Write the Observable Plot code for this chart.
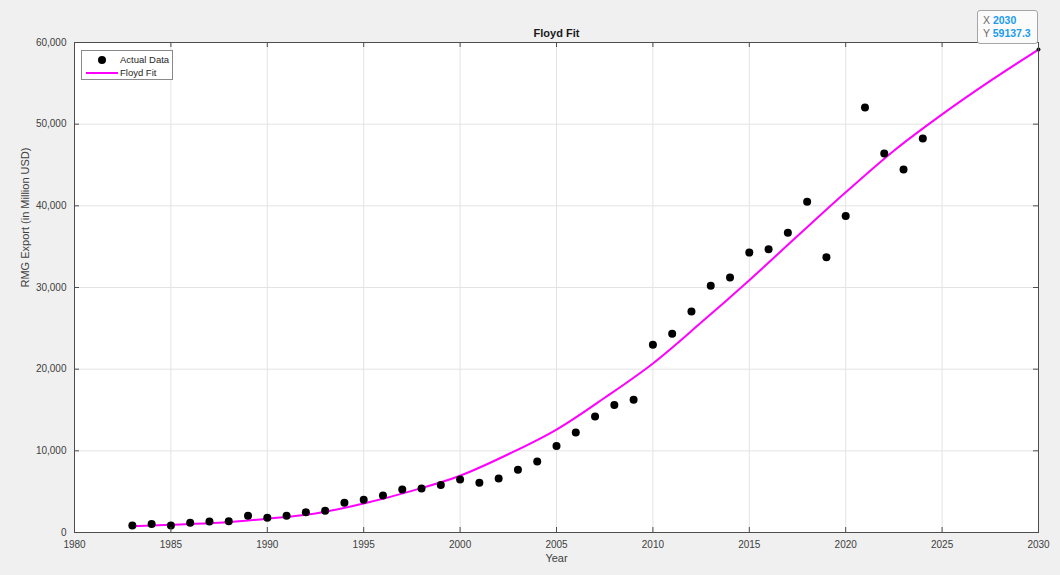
<!DOCTYPE html>
<html>
<head>
<meta charset="utf-8">
<script src="https://cdn.jsdelivr.net/npm/d3@7"></script>
<script src="https://cdn.jsdelivr.net/npm/@observablehq/plot@0.6"></script>
<style>
  html, body { margin: 0; padding: 0; background: #f0f0f0; }
  #wrap { position: relative; width: 1060px; height: 575px; font-family: "Liberation Sans", Arial, Helvetica, sans-serif; }
  #legend { position: absolute; left: 81px; top: 50px; width: 92px; height: 30px; background: #fff; border: 1px solid #8a8a8a; box-sizing: border-box; font-size: 9.5px; color: #262626; }
  #legend .row { position: absolute; left: 0; height: 12px; line-height: 12px; }
  #tip { position: absolute; left: 977px; top: 10px; width: 61px; height: 34px; background: #fbfbfb; border: 1px solid #a5a5a5; border-radius: 3px; box-sizing: border-box; font-size: 10.5px; line-height: 13px; padding: 3px 0 0 5px; color: #6a6a6a; }
  #tip b { color: #1a9cf0; font-weight: bold; }
</style>
</head>
<body>
<div id="wrap"></div>
<script>
// Actual data
const years = [1983,1984,1985,1986,1987,1988,1989,1990,1991,1992,1993,1994,1995,1996,1997,1998,1999,2000,2001,2002,2003,2004,2005,2006,2007,2008,2009,2010,2011,2012,2013,2014,2015,2016,2017,2018,2019,2020,2021,2022,2023,2024];
const exportsMUSD = [870,1030,870,1190,1360,1390,2040,1800,2040,2490,2650,3630,4000,4530,5270,5390,5830,6490,6080,6610,7670,8690,10600,12230,14190,15610,16270,23000,24340,27070,30200,31220,34280,34680,36690,40510,33710,38760,52040,46420,44460,48250];

// Floyd fit curve
const fitYears = [1983,1985,1987.5,1990,1992.5,1995,1997.5,2000,2002.5,2005,2007.5,2010,2012.5,2015,2017.5,2020,2022.5,2025,2027.5,2030];
const fitValues = [780,950,1190,1680,2330,3550,5100,6950,9580,12600,16500,20700,25700,30900,36300,41650,46750,51200,55300,59137.3];

// Tick values
const xTicks = [1980,1985,1990,1995,2000,2005,2010,2015,2020,2025,2030];
const yTicks = [0,10000,20000,30000,40000,50000,60000];

// Data tip
const tipX = 2030, tipY = 59137.3;

const data = years.map((y, i) => ({year: y, value: exportsMUSD[i]}));
const fit = fitYears.map((y, i) => ({year: y, value: fitValues[i]}));

const W = 1060, H = 575, mL = 74, mR = 22, mT = 42, mB = 43;
const iw = W - mL - mR, ih = H - mT - mB;

const chart = Plot.plot({
  width: W, height: H,
  marginLeft: mL, marginRight: mR, marginTop: mT, marginBottom: mB,
  style: {background: "#f0f0f0", fontFamily: "'Liberation Sans', Arial, Helvetica, sans-serif", fontSize: "10px", color: "#404040", overflow: "visible"},
  x: {domain: [1980, 2030]},
  y: {domain: [0, 60000]},
  marks: [
    Plot.frame({fill: "white", stroke: null}),
    Plot.ruleX(xTicks, {x: d => d, stroke: "#e3e3e3", strokeWidth: 1}),
    Plot.ruleY(yTicks, {y: d => d, stroke: "#e3e3e3", strokeWidth: 1}),
    Plot.line(fit, {x: "year", y: "value", stroke: "#ff00ff", strokeWidth: 2, curve: "monotone-x"}),
    Plot.dot(data, {x: "year", y: "value", r: 4, fill: "black", stroke: null}),
    Plot.dot([{year: tipX, value: tipY}], {x: "year", y: "value", r: 2, fill: "#111", stroke: null}),
    // inward ticks (bottom/top/left/right)
    Plot.tickX(xTicks, {x: d => d, insetTop: ih - 5, stroke: "#4d4d4d"}),
    Plot.tickX(xTicks, {x: d => d, insetBottom: ih - 5, stroke: "#4d4d4d"}),
    Plot.tickY(yTicks, {y: d => d, insetRight: iw - 5, stroke: "#4d4d4d"}),
    Plot.tickY(yTicks, {y: d => d, insetLeft: iw - 5, stroke: "#4d4d4d"}),
    Plot.frame({stroke: "#4d4d4d", strokeWidth: 1}),
    Plot.axisX({ticks: xTicks, tickSize: 0, tickPadding: 8, tickFormat: d => String(d), label: null, fill: "#404040"}),
    Plot.axisY({ticks: yTicks, tickSize: 0, tickPadding: 8, tickFormat: d3.format(","), label: null, fill: "#404040"}),
    Plot.text(["Floyd Fit"], {frameAnchor: "top", lineAnchor: "middle", dy: -9, fontWeight: "bold", fontSize: 11, fill: "#1a1a1a"}),
    Plot.text(["Year"], {frameAnchor: "bottom", lineAnchor: "middle", dy: 26, fontSize: 11, fill: "#404040"}),
    Plot.text(["RMG Export (in Million USD)"], {frameAnchor: "left", dx: -49, rotate: -90, fontSize: 11, fill: "#404040"})
  ]
});

const wrap = document.getElementById("wrap");
wrap.appendChild(chart);

// Legend
const legend = document.createElement("div");
legend.id = "legend";
legend.innerHTML =
  `<div class="row" style="top:3px;width:100%"><svg width="38" height="12" style="position:absolute;left:0;top:0"><circle cx="20" cy="6" r="4" fill="black"/></svg><span style="position:absolute;left:38px">Actual Data</span></div>` +
  `<div class="row" style="top:16px;width:100%"><svg width="38" height="12" style="position:absolute;left:0;top:0"><line x1="4" x2="36" y1="6" y2="6" stroke="#ff00ff" stroke-width="2"/></svg><span style="position:absolute;left:38px">Floyd Fit</span></div>`;
wrap.appendChild(legend);

// Data tip
const tip = document.createElement("div");
tip.id = "tip";
tip.innerHTML = `X <b>${tipX}</b><br>Y <b>${tipY}</b>`;
wrap.appendChild(tip);
</script>
</body>
</html>
